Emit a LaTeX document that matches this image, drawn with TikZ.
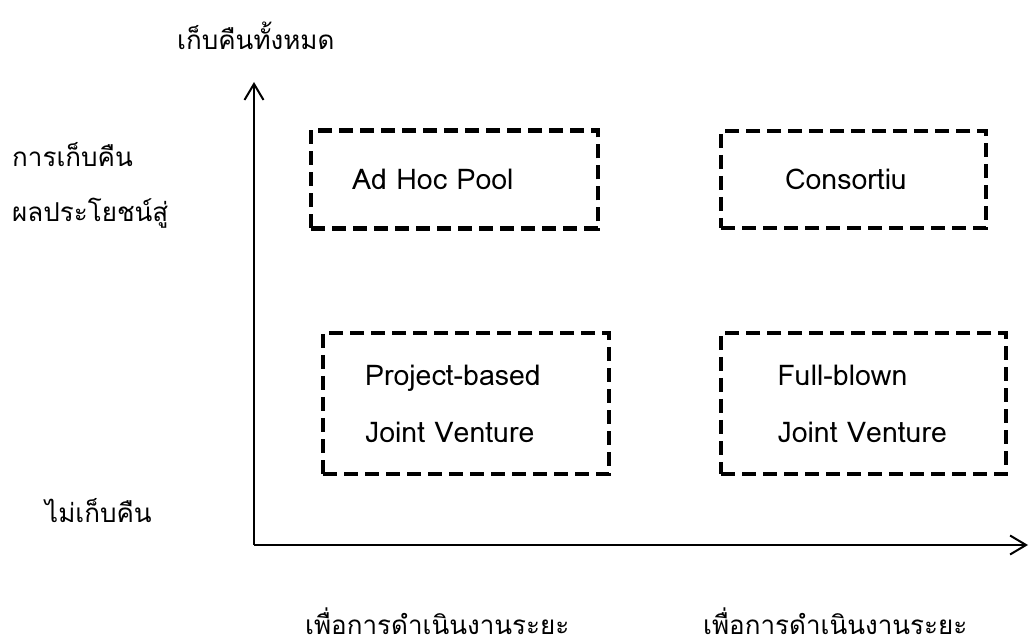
\documentclass[tikz,border=0pt]{standalone}
\usepackage{fontspec}
\newfontfamily\thaifont[Script=Thai]{Loma}
\usetikzlibrary{arrows.meta}

\begin{document}
\begin{tikzpicture}[x=1pt,y=-1pt]
\tikzset{
	lbl/.style = {font=\thaifont\fontsize{26}{57}\selectfont, inner sep=0, anchor=base west},
	dbox/.style = {draw, line width=4.5pt, dash pattern=on 14pt off 7pt, inner sep=0, align=left,
		font=\thaifont\fontsize{28.5}{57}\selectfont},
	axis/.style = {line width=2.5pt, -{Straight Barb[length=16pt, width=19pt, line width=2pt]}}
}
\useasboundingbox (0,0) rectangle (1029,644);

\coordinate (o) at (254,545);
\coordinate (ytop) at (254,82);
\coordinate (xend) at (1028,545);
\draw[axis] (o) -- (ytop);
\draw[axis] (o) -- (xend);

\node[dbox, minimum width=287pt, minimum height=98pt, text width=205pt] (adhoc) at (454.5,179.5) {Ad Hoc Pool};
\node[dbox, minimum width=265pt, minimum height=97pt, text width=137pt] (consort) at (853.5,179.5) {Consortiu};
\node[dbox, minimum width=286pt, minimum height=141pt, text width=202pt] (project) at (466,403.5) {Project-based\\Joint~Venture};
\node[dbox, minimum width=285pt, minimum height=141pt, text width=172pt] (fullblown) at (863.5,403.5) {Full-blown\\Joint~Venture};

\node[lbl] (ymax) at (177,50) {เก็บคืนทั้งหมด};
\node[lbl] (yhigh1) at (12,167) {การเก็บคืน};
\node[lbl] (yhigh2) at (12,222) {ผลประโยชน์สู่};
\node[lbl] (ymin) at (45,522) {ไม่เก็บคืน};
\node[lbl] (xleft) at (305,634) {เพื่อการดำเนินงานระยะ};
\node[lbl] (xright) at (703,634) {เพื่อการดำเนินงานระยะ};
\end{tikzpicture}
\end{document}
